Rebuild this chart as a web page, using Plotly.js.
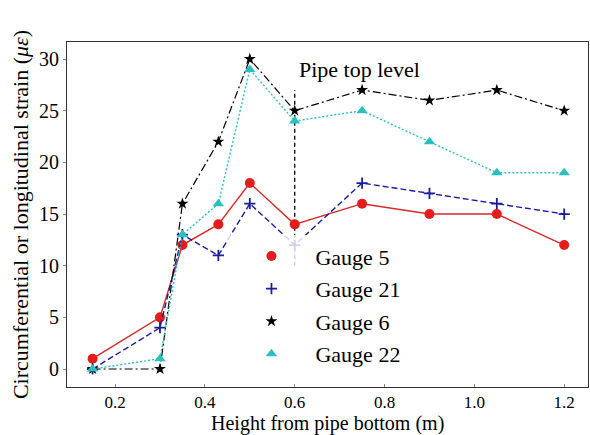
<!DOCTYPE html>
<html>
<head>
<meta charset="utf-8">
<script src="https://cdn.plot.ly/plotly-3.0.1.min.js"></script>
<style>html,body{margin:0;padding:0;background:#fff;}#chart{width:590px;height:435px;}</style>
</head>
<body>
<div id="chart"></div>
<script>
const heights = [0.15, 0.30, 0.35, 0.43, 0.50, 0.60, 0.75, 0.90, 1.05, 1.20];
const gauge5  = [1, 5, 12, 14, 18, 14, 16, 15, 15, 12];
const gauge21 = [0, 4, 13, 11, 16, 12, 18, 17, 16, 15];
const gauge6  = [0, 0, 16, 22, 30, 25, 27, 26, 27, 25];
const gauge22 = [0, 1, 13, 16, 29, 24, 25, 22, 19, 19];
const seriesNames = ['Gauge 5', 'Gauge 21', 'Gauge 6', 'Gauge 22'];
const pipeTopX = [0.6, 0.6];
const pipeTopY = [10, 27];
const pipeTopLabel = 'Pipe top level';
const xTitle = 'Height from pipe bottom (m)';
const xTicks = [0.2, 0.4, 0.6, 0.8, 1.0, 1.2];
const yTicks = [0, 5, 10, 15, 20, 25, 30];

const FONT = '"Liberation Serif", "Times New Roman", serif';
const styles = [
  {color: '#e51c1c', lineColor: '#d42a2a', dash: 'solid', symbol: 'circle', size: 10, lw: 1.4},
  {color: '#1c1ca0', lineColor: '#1c1ca0', dash: '6px,3px', symbol: 'cross-thin', size: 8, lw: 1.4},
  {color: '#000000', lineColor: '#000000', dash: '8px,3px,2px,3px', symbol: 'star', size: 9, lw: 1.2},
  {color: '#2bbfbf', lineColor: '#2bbfbf', dash: '2px,2px', symbol: 'triangle-up', size: 10, lw: 1.4}
];
const allY = [gauge5, gauge21, gauge6, gauge22];

const traces = [];
traces.push({
  x: pipeTopX, y: pipeTopY, mode: 'lines', showlegend: false, hoverinfo: 'skip',
  line: {color: '#000', dash: '4px,3px', width: 1.3}
});
allY.forEach((ys, i) => {
  const s = styles[i];
  traces.push({
    x: heights, y: ys, mode: 'lines+markers', showlegend: false,
    line: {color: s.lineColor, dash: s.dash, width: s.lw},
    marker: {color: s.color, symbol: s.symbol, size: s.size,
             line: {color: s.color, width: s.symbol === 'cross-thin' ? 1.8 : 0}}
  });
});
allY.forEach((ys, i) => {
  const s = styles[i];
  traces.push({
    x: [null], y: [null], mode: 'markers', name: seriesNames[i], legendgroup: 'g' + i,
    marker: {color: s.color, symbol: s.symbol, size: s.size,
             line: {color: s.color, width: s.symbol === 'cross-thin' ? 1.8 : 0}}
  });
});

const plotH = 435 - 42 - 48;
const layout = {
  width: 590, height: 435,
  margin: {l: 67, r: 2, t: 42, b: 48},
  paper_bgcolor: '#fff', plot_bgcolor: '#fff',
  font: {family: FONT, size: 20, color: '#000'},
  showlegend: true,
  legend: {x: 0.308, y: 0.44, xanchor: 'left', yanchor: 'top',
           bgcolor: 'rgba(255,255,255,0.8)', borderwidth: 0,
           font: {family: FONT, size: 22}, itemwidth: 78, tracegroupgap: 1},
  xaxis: {range: [0.093, 1.253], tickvals: xTicks, ticktext: xTicks.map(v => v.toFixed(1)),
          showgrid: false, zeroline: false, showline: true, mirror: true,
          linecolor: '#333', linewidth: 1, ticks: 'inside', ticklen: 3, tickcolor: '#888',
          tickfont: {family: FONT, size: 17}},
  yaxis: {range: [-1.74, 31.65], tickvals: yTicks,
          showgrid: false, zeroline: false, showline: true, mirror: true,
          linecolor: '#333', linewidth: 1, ticks: 'outside', ticklen: 3, tickcolor: '#888',
          tickfont: {family: FONT, size: 20},
          title: {text: 'Circumferential or longitudinal strain (<i>με</i>)', font: {family: FONT, size: 22}, standoff: 4}},
  annotations: [
    {x: pipeTopX[0], y: pipeTopY[1], xref: 'x', yref: 'y', text: pipeTopLabel,
     showarrow: false, xanchor: 'left', yanchor: 'bottom', xshift: 2, yshift: 6,
     font: {family: FONT, size: 22}},
    {x: 0.5, y: -48 / plotH, xref: 'paper', yref: 'paper', text: xTitle,
     showarrow: false, xanchor: 'center', yanchor: 'bottom', yshift: -1, borderpad: 0,
     font: {family: FONT, size: 20}}
  ]
};
Plotly.newPlot('chart', traces, layout, {displayModeBar: false, staticPlot: true});
</script>
</body>
</html>
